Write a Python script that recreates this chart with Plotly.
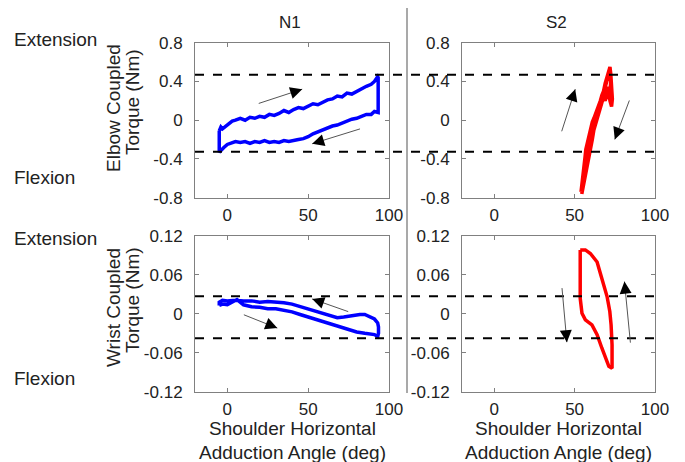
import plotly.graph_objects as go

# ---------------- data ----------------
# N1 elbow coupled torque loop (x: shoulder angle deg, y: torque Nm)
n1_elbow_x = [-5, -4, -3, -1, 1, 3, 5, 8, 11, 14, 17, 20, 23, 26, 29, 32, 35, 38, 41, 44, 47, 50,
              53, 56, 59, 62, 65, 68, 71, 74, 77, 80, 83, 86, 89, 91, 93,
              93.3, 93.3,
              91, 89, 86, 83, 80, 77, 74, 71, 68, 65, 62, 59, 56, 53, 50, 47, 44, 41, 38, 35, 32,
              29, 26, 23, 20, 17, 14, 11, 8, 5, 2, 0, -2, -4, -5, -5]
n1_elbow_y = [-0.11, -0.07, -0.09, -0.06, -0.04, -0.01, 0.0, 0.02, 0.0, 0.03, 0.02, 0.04, 0.03, 0.06,
              0.05, 0.07, 0.10, 0.08, 0.11, 0.13, 0.12, 0.15, 0.17, 0.16, 0.19, 0.21, 0.22, 0.25,
              0.24, 0.28, 0.27, 0.30, 0.32, 0.35, 0.37, 0.40, 0.45,
              0.44, 0.08,
              0.09, 0.06, 0.06, 0.04, 0.02, 0.01, -0.01, -0.03, -0.05, -0.06, -0.08, -0.10, -0.12,
              -0.14, -0.17, -0.19, -0.20, -0.21, -0.22, -0.21, -0.23, -0.22, -0.23, -0.21, -0.23,
              -0.22, -0.24, -0.22, -0.23, -0.22, -0.24, -0.25, -0.28, -0.31, -0.33, -0.11]

# S2 elbow coupled torque path
s2_elbow_x = [54, 55, 55.5, 56.5, 57, 58, 59, 60, 61, 62, 63, 64, 65, 66, 67, 68, 69, 70, 71, 72,
              72.5, 73, 73.5, 73, 72, 71, 70.5, 70, 69, 68, 67, 66, 65, 64, 63, 62, 61, 60, 59,
              58, 57, 56, 55, 54.5, 55.5, 57, 58.5, 60, 61.5, 63, 65, 67, 68.5, 70, 71.5, 72.5,
              72, 70.5, 69, 67, 65, 63, 61, 59.5, 58, 56.5, 55]
s2_elbow_y = [-0.74, -0.62, -0.5, -0.38, -0.3, -0.22, -0.16, -0.08, -0.02, 0.02, 0.06, 0.1, 0.14,
              0.2, 0.26, 0.3, 0.38, 0.44, 0.5, 0.55, 0.48, 0.38, 0.22, 0.14, 0.2, 0.3, 0.22, 0.26,
              0.2, 0.24, 0.18, 0.12, 0.06, 0.02, -0.04, -0.1, -0.2, -0.28, -0.38, -0.46, -0.55,
              -0.62, -0.7, -0.76, -0.6, -0.42, -0.28, -0.12, -0.04, 0.04, 0.12, 0.22, 0.32, 0.4,
              0.47, 0.4, 0.3, 0.34, 0.26, 0.22, 0.1, 0.0, -0.12, -0.26, -0.4, -0.55, -0.7]

# N1 wrist coupled torque loop
n1_wrist_x = [-5, -3, 0, 3, 6, 10, 15, 20, 25, 30, 35, 40, 45, 50, 55, 60, 65, 70, 75, 80, 85, 88,
              91, 93, 93.5, 93.5, 93, 91, 88,
              85, 82, 78, 75, 72, 68, 64, 60, 56, 52, 48, 44, 40, 35, 30, 25, 20, 15, 10, 5, 0,
              -3, -5, -5]
n1_wrist_y = [0.013, 0.015, 0.014, 0.018, 0.022, 0.014, 0.011, 0.010, 0.008, 0.008, 0.006, 0.003,
              -0.001, -0.005, -0.009, -0.013, -0.017, -0.021, -0.024, -0.028, -0.030, -0.031,
              -0.032, -0.035, -0.030, -0.020, -0.014, -0.008, -0.004,
              -0.001, -0.001, -0.003, -0.004, -0.005, -0.006, -0.003, 0.001, 0.004, 0.007, 0.010,
              0.013, 0.015, 0.017, 0.018, 0.019, 0.018, 0.020, 0.020, 0.021, 0.020, 0.021, 0.018,
              0.013]

# S2 wrist coupled torque loop
s2_wrist_x = [53.5, 56.7, 59.8, 62, 64, 66, 68.1, 70.2, 71.9, 72.7, 73.3, 73.5, 73.3, 71.3, 69.2,
              67, 64, 60.8, 56.7, 54.6, 53.5, 53.5, 53.5, 53.5]
s2_wrist_y = [0.0985, 0.0985, 0.093, 0.087, 0.08, 0.0626, 0.0446, 0.0267, 0.0036, -0.017, -0.048,
              -0.068, -0.084, -0.081, -0.068, -0.053, -0.032, -0.017, -0.0092, 0.001, 0.024,
              0.06, 0.091, 0.0985]

# reference (dashed) torque levels
elbow_levels = [0.47, -0.325]
wrist_levels = [0.027, -0.0375]

# direction arrows: (tail_x, tail_y, head_x, head_y)
arrows_tl = [(18.5, 0.168, 46.3, 0.32), (83, -0.085, 52.5, -0.243)]
arrows_tr = [(41.7, -0.13, 50.4, 0.32), (84.4, 0.219, 75, -0.198)]
arrows_bl = [(75.7, 0.0026, 52.5, 0.023), (9.3, -0.0005, 30.9, -0.022)]
arrows_br = [(42.1, 0.042, 45.2, -0.0436), (84.8, -0.0467, 81, 0.0497)]

x_ticks = [0, 50, 100]
x_tick_text = ["0", "50", "100"]
elbow_ticks = [-0.8, -0.4, 0, 0.4, 0.8]
elbow_tick_text = ["-0.8", "-0.4", "0", "0.4", "0.8"]
wrist_ticks = [-0.12, -0.06, 0, 0.06, 0.12]
wrist_tick_text = ["-0.12", "-0.06", "0", "0.06", "0.12"]

column_titles = ["N1", "S2"]
row_titles = [("Elbow Coupled", "Torque (Nm)"), ("Wrist Coupled", "Torque (Nm)")]
x_title_lines = ["Shoulder Horizontal", "Adduction Angle (deg)"]

# ---------------- figure ----------------
W, H = 685, 462
FONT = "Arial, Liberation Sans, sans-serif"
BLUE = "#0000ff"
RED = "#ff0000"

fig = go.Figure()
fig.add_trace(go.Scatter(x=n1_elbow_x, y=n1_elbow_y, mode="lines",
                         line=dict(color=BLUE, width=3.5), xaxis="x", yaxis="y"))
fig.add_trace(go.Scatter(x=s2_elbow_x, y=s2_elbow_y, mode="lines",
                         line=dict(color=RED, width=3.5), xaxis="x2", yaxis="y2"))
fig.add_trace(go.Scatter(x=n1_wrist_x, y=n1_wrist_y, mode="lines",
                         line=dict(color=BLUE, width=3.5), xaxis="x3", yaxis="y3"))
fig.add_trace(go.Scatter(x=s2_wrist_x, y=s2_wrist_y, mode="lines",
                         line=dict(color=RED, width=3.5), xaxis="x4", yaxis="y4"))

px = lambda v: v / W
py = lambda v: 1 - v / H

left_dom = [px(195), px(389)]
right_dom = [px(462), px(655)]
top_dom = [py(197.7), py(42.7)]
bot_dom = [py(391.7), py(236)]

AX = dict(showgrid=False, zeroline=False, showline=True, linecolor="#808080", linewidth=1,
          mirror="ticks", ticks="inside", ticklen=4, tickcolor="#808080", automargin=False,
          tickfont=dict(family=FONT, size=17, color="#222"))

def xax(dom, anchor):
    return dict(AX, domain=dom, anchor=anchor, range=[-20, 100], tickvals=x_ticks,
                ticktext=x_tick_text, ticklabelstandoff=2)

def yax(dom, anchor, ticks, text, rng):
    return dict(AX, domain=dom, anchor=anchor, range=rng, tickvals=ticks, ticktext=text,
                ticklabelstandoff=8)

fig.update_layout(
    width=W, height=H, autosize=False,
    margin=dict(l=0, r=0, t=0, b=0, pad=0, autoexpand=False),
    paper_bgcolor="white", plot_bgcolor="white", showlegend=False,
    xaxis=xax(left_dom, "y"), yaxis=yax(top_dom, "x", elbow_ticks, elbow_tick_text, [-0.8, 0.8]),
    xaxis2=xax(right_dom, "y2"), yaxis2=yax(top_dom, "x2", elbow_ticks, elbow_tick_text, [-0.8, 0.8]),
    xaxis3=xax(left_dom, "y3"), yaxis3=yax(bot_dom, "x3", wrist_ticks, wrist_tick_text, [-0.12, 0.12]),
    xaxis4=xax(right_dom, "y4"), yaxis4=yax(bot_dom, "x4", wrist_ticks, wrist_tick_text, [-0.12, 0.12]),
)

shapes = []
for lv in elbow_levels:
    shapes.append(dict(type="line", xref="paper", yref="y", x0=px(195), x1=px(661), y0=lv, y1=lv,
                       line=dict(color="black", width=2, dash="dash")))
for lv in wrist_levels:
    shapes.append(dict(type="line", xref="paper", yref="y3", x0=px(195), x1=px(661), y0=lv, y1=lv,
                       line=dict(color="black", width=2, dash="dash")))
shapes.append(dict(type="line", xref="paper", yref="paper", x0=px(407), x1=px(407),
                   y0=py(393), y1=py(8), line=dict(color="#8c8c8c", width=1.5)))
fig.update_layout(shapes=shapes)

ann = []
TXT = dict(family=FONT, size=19, color="#222")
# column titles
for t, xc in zip(column_titles, [290, 556]):
    ann.append(dict(text=t, x=px(xc), y=py(22), xref="paper", yref="paper", showarrow=False,
                    xanchor="center", yanchor="middle", font=dict(family=FONT, size=17, color="#222")))
# Extension / Flexion
for t, yc in [("Extension", 40), ("Flexion", 178), ("Extension", 238), ("Flexion", 378)]:
    ann.append(dict(text=t, x=px(12), y=py(yc), xref="paper", yref="paper", showarrow=False,
                    xanchor="left", yanchor="middle", font=TXT))
# row (y axis) titles, rotated
for (l1, l2), (x1, y1, x2, y2) in zip(row_titles, [(114, 108, 133, 102), (113, 307, 132, 300)]):
    ann.append(dict(text=l1, x=px(x1), y=py(y1), xref="paper", yref="paper", showarrow=False,
                    textangle=-90, xanchor="center", yanchor="middle", font=TXT))
    ann.append(dict(text=l2, x=px(x2), y=py(y2), xref="paper", yref="paper", showarrow=False,
                    textangle=-90, xanchor="center", yanchor="middle", font=TXT))
# x axis titles
for xc in [292, 558]:
    for line, yc in zip(x_title_lines, [428, 452]):
        ann.append(dict(text=line, x=px(xc), y=py(yc), xref="paper", yref="paper",
                        showarrow=False, xanchor="center", yanchor="middle", font=TXT))
# arrows
for arr, (xr, yr) in [(arrows_tl, ("x", "y")), (arrows_tr, ("x2", "y2")),
                      (arrows_bl, ("x3", "y3")), (arrows_br, ("x4", "y4"))]:
    for (tx, ty, hx, hy) in arr:
        ann.append(dict(text="", x=hx, y=hy, ax=tx, ay=ty, xref=xr, yref=yr, axref=xr, ayref=yr,
                        showarrow=True, arrowhead=0, arrowwidth=1, arrowcolor="#555"))
        sx = hx + 0.15 * (tx - hx)
        sy = hy + 0.15 * (ty - hy)
        ann.append(dict(text="", x=hx, y=hy, ax=sx, ay=sy, xref=xr, yref=yr, axref=xr, ayref=yr,
                        showarrow=True, arrowhead=2, arrowsize=1.6, arrowwidth=1.5,
                        arrowcolor="black"))
fig.update_layout(annotations=ann)

fig.write_html("out.html", config={"responsive": False})
